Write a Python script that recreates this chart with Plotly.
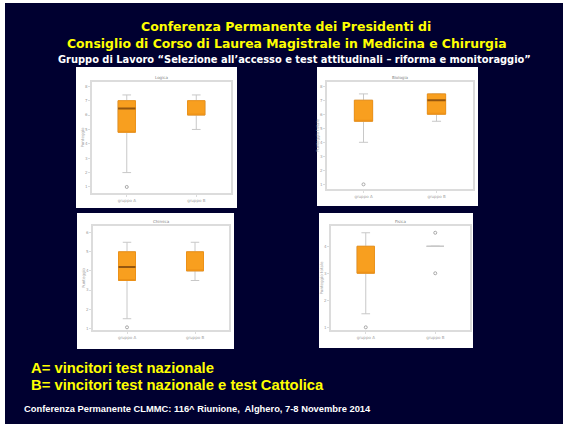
import plotly.graph_objects as go

W, H = 563, 424

# ---------------- data ----------------
groups = ["gruppo A", "gruppo B"]
group_pos = [1, 2]

panel_titles = ["Logica", "Biologia", "Chimica", "Fisica"]
y_titles = ["Punteggio", "Punteggio totale", "Punteggio", "Punteggio totale"]

p1_upper = [7.4, 7.4]
p1_q3 = [7.0, 7.0]
p1_median = [6.45, 7.0]
p1_q1 = [4.8, 6.0]
p1_lower = [2.0, 5.0]
p1_out_x = [1]
p1_out_y = [1.0]
p1_ticks = [1, 2, 3, 4, 5, 6, 7, 8]

p2_upper = [7.45, 7.45]
p2_q3 = [7.0, 7.45]
p2_median = [7.0, 7.0]
p2_q1 = [5.5, 6.0]
p2_lower = [4.0, 5.5]
p2_out_x = [1]
p2_out_y = [1.0]
p2_ticks = [1, 2, 3, 4, 5, 6, 7, 8]

p3_upper = [5.5, 5.5]
p3_q3 = [5.0, 5.0]
p3_median = [4.2, 5.0]
p3_q1 = [3.5, 4.0]
p3_lower = [1.5, 3.5]
p3_out_x = [1]
p3_out_y = [1.05]
p3_ticks = [1, 2, 3, 4, 5, 6]

p4_upper = [4.5, 4.0]
p4_q3 = [4.0, 4.0]
p4_median = [4.0, 4.0]
p4_q1 = [3.0, 4.0]
p4_lower = [1.5, 4.0]
p4_out_x = [1, 2, 2]
p4_out_y = [1.0, 4.5, 3.0]
p4_ticks = [1, 2, 3, 4]

panels = [
    (p1_upper, p1_q3, p1_median, p1_q1, p1_lower, p1_out_x, p1_out_y, p1_ticks),
    (p2_upper, p2_q3, p2_median, p2_q1, p2_lower, p2_out_x, p2_out_y, p2_ticks),
    (p3_upper, p3_q3, p3_median, p3_q1, p3_lower, p3_out_x, p3_out_y, p3_ticks),
    (p4_upper, p4_q3, p4_median, p4_q1, p4_lower, p4_out_x, p4_out_y, p4_ticks),
]
y_ranges = [[0.58, 8.3], [0.67, 8.3], [0.91, 6.35], [0.9, 4.75]]

# ---------------- layout geometry (pixels) ----------------
frames = [(92, 231, 82, 193), (327, 473, 82, 189), (93, 229, 226, 330), (331, 470, 226, 330)]
cards = [(76, 237, 67, 208), (317, 478, 67, 206), (77, 234, 213, 349), (319, 473, 213, 348)]

BG = "#000030"
ORANGE = "#f89f1f"
ORANGE_EDGE = "#ec9118"
MEDIAN = "#94560f"
GRAY = "#c8c8c8"
FRAME = "#dcdcdc"
TXT = "#a0a0a0"


def fx(x):
    return x / W


def fy(y):
    return 1 - y / H


fig = go.Figure()
layout = dict(
    width=W, height=H, margin=dict(l=0, r=0, t=0, b=0),
    paper_bgcolor="white", plot_bgcolor="rgba(0,0,0,0)",
    showlegend=False, boxmode="overlay",
)

shapes = [dict(type="rect", xref="paper", yref="paper", x0=fx(5), x1=1, y0=0, y1=fy(3),
               fillcolor=BG, line=dict(width=0), layer="below")]
annotations = []

for i, (upper, q3, med, q1, lower, ox, oy, ticks) in enumerate(panels):
    n = "" if i == 0 else str(i + 1)
    xa, ya = "x" + n, "y" + n
    l, r, t, b = frames[i]
    cl, cr, ct, cb = cards[i]
    shapes.append(dict(type="rect", xref="paper", yref="paper", x0=fx(cl), x1=fx(cr),
                       y0=fy(cb), y1=fy(ct), fillcolor="white", line=dict(width=0), layer="below"))
    for g in range(2):
        # whiskers + box in gray
        fig.add_trace(go.Box(x=[group_pos[g]], q1=[q1[g]], median=[med[g]], q3=[q3[g]],
                             lowerfence=[lower[g]], upperfence=[upper[g]],
                             width=0.25, whiskerwidth=0.5, fillcolor=ORANGE,
                             line=dict(color=GRAY, width=1), xaxis=xa, yaxis=ya,
                             hoverinfo="skip"))
        if q3[g] > q1[g]:
            # orange box outline over the gray one
            fig.add_trace(go.Box(x=[group_pos[g]], q1=[q1[g]], median=[q1[g]], q3=[q3[g]],
                                 lowerfence=[q1[g]], upperfence=[q3[g]],
                                 width=0.25, whiskerwidth=0, fillcolor=ORANGE,
                                 line=dict(color=ORANGE_EDGE, width=1), xaxis=xa, yaxis=ya,
                                 hoverinfo="skip"))
        if q1[g] < med[g] < q3[g]:
            fig.add_trace(go.Box(x=[group_pos[g]], q1=[med[g]], median=[med[g]], q3=[med[g]],
                                 lowerfence=[med[g]], upperfence=[med[g]],
                                 width=0.25, whiskerwidth=0, fillcolor="rgba(0,0,0,0)",
                                 line=dict(color=MEDIAN, width=2), xaxis=xa, yaxis=ya,
                                 hoverinfo="skip"))
    fig.add_trace(go.Scatter(x=ox, y=oy, mode="markers", xaxis=xa, yaxis=ya,
                             marker=dict(symbol="circle-open", size=3, color="#a8a8a8",
                                         line=dict(width=1)), hoverinfo="skip"))

    layout["xaxis" + n] = dict(domain=[fx(l), fx(r)], anchor=ya, range=[0.5, 2.5],
                               tickvals=group_pos, ticktext=groups, ticks="outside", ticklen=2,
                               tickcolor=FRAME, tickfont=dict(size=4, color=TXT, family="DejaVu Sans"),
                               showline=True, mirror=True, linecolor=FRAME, linewidth=1.5,
                               showgrid=False, zeroline=False, fixedrange=True)
    layout["yaxis" + n] = dict(domain=[fy(b), fy(t)], anchor=xa, range=y_ranges[i],
                               tickvals=ticks, ticks="outside", ticklen=2, tickcolor=FRAME,
                               tickfont=dict(size=4, color=TXT, family="DejaVu Sans"),
                               title=dict(text=y_titles[i], font=dict(size=4, color=TXT, family="DejaVu Sans"),
                                          standoff=1),
                               showline=True, mirror=True, linecolor=FRAME, linewidth=1.5,
                               showgrid=False, zeroline=False, fixedrange=True)
    annotations.append(dict(text=panel_titles[i], xref="paper", yref="paper",
                            x=fx((l + r) / 2), y=fy(t - 5), showarrow=False,
                            xanchor="center", yanchor="middle",
                            font=dict(size=4, color="#808080", family="DejaVu Sans")))

YEL = "#ffff00"
TFONT = "DejaVu Sans"
FONT = "Liberation Sans"
annotations += [
    dict(text="<b>Conferenza Permanente dei Presidenti di</b>", x=fx(286), y=fy(26),
         font=dict(size=12.5, color=YEL, family=TFONT)),
    dict(text="<b>Consiglio di Corso di Laurea Magistrale in Medicina e Chirurgia</b>", x=fx(287), y=fy(44),
         font=dict(size=12.4, color=YEL, family=TFONT)),
    dict(text="<b>Gruppo di Lavoro \u201cSelezione all\u2019accesso e test attitudinali \u2013 riforma e monitoraggio\u201d</b>",
         x=fx(294), y=fy(60), font=dict(size=9.9, color="white", family=TFONT)),
]
for a in annotations[-3:]:
    a.update(xref="paper", yref="paper", showarrow=False, xanchor="center", yanchor="middle")

for txt, yy in [("<b>A= vincitori test nazionale</b>", 368), ("<b>B= vincitori test nazionale e test Cattolica</b>", 385)]:
    annotations.append(dict(text=txt, xref="paper", yref="paper", x=fx(29), y=fy(yy),
                            showarrow=False, xanchor="left", yanchor="middle",
                            font=dict(size=14.8, color=YEL, family=FONT)))
annotations.append(dict(text="<b>Conferenza Permanente CLMMC: 116^ Riunione,  Alghero, 7-8 Novembre 2014</b>",
                        xref="paper", yref="paper", x=fx(22), y=fy(409), showarrow=False,
                        xanchor="left", yanchor="middle",
                        font=dict(size=9.35, color="white", family=FONT)))

layout["shapes"] = shapes
layout["annotations"] = annotations
fig.update_layout(**layout)
fig.write_html("out.html", config={"displayModeBar": False},
               post_script="document.body.style.margin='0';document.body.style.overflow='hidden';")
